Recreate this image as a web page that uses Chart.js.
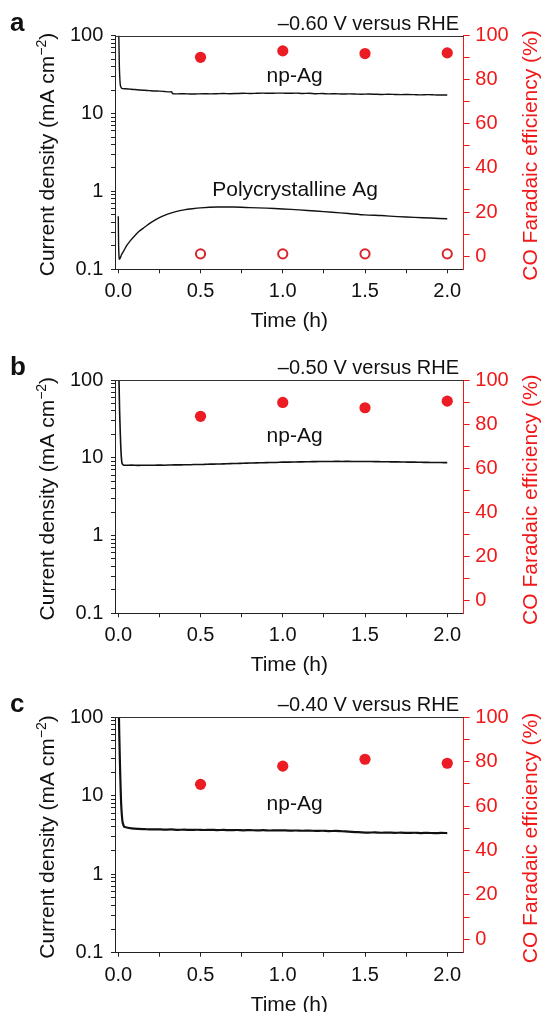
<!DOCTYPE html>
<html>
<head>
<meta charset="utf-8">
<script src="https://cdn.jsdelivr.net/npm/chart.js@4.4.1/dist/chart.umd.min.js"></script>
<style>
  html, body { margin: 0; padding: 0; background: #fff; overflow: hidden; }
  body { width: 542px; height: 1012px; position: relative; }
  canvas { position: absolute; left: 0; }
</style>
</head>
<body>
<canvas id="panelA" width="542" height="340" style="top:0px"></canvas>
<canvas id="panelB" width="542" height="340" style="top:344px"></canvas>
<canvas id="panelC" width="542" height="331" style="top:681px"></canvas>
<script>
const FONT = '"Liberation Sans", Arial, Helvetica, sans-serif';
const RED = "#f01818";
const DOT_RED = "#ec1c24";

// tick values
const timeTicks = [0, 0.25, 0.5, 0.75, 1.0, 1.25, 1.5, 1.75, 2.0];
const feTicks = [0, 10, 20, 30, 40, 50, 60, 70, 80, 90, 100];
const jTicks = [0.1, 0.2, 0.3, 0.4, 0.5, 0.6, 0.7, 0.8, 0.9,
  1, 2, 3, 4, 5, 6, 7, 8, 9,
  10, 20, 30, 40, 50, 60, 70, 80, 90, 100];

// panel a, -0.60 V : np-Ag current density (mA cm-2)
const timeNpA = [0, 0.006, 0.012, 0.02, 0.04, 0.07, 0.1, 0.13, 0.16, 0.19, 0.22, 0.25, 0.28, 0.31,
  0.325, 0.33, 0.36,
  0.40, 0.44, 0.48, 0.52, 0.56, 0.60, 0.64, 0.68, 0.72, 0.76,
  0.80, 0.84, 0.88, 0.92, 0.96, 1.00, 1.04, 1.08, 1.12, 1.16,
  1.20, 1.24, 1.28, 1.32, 1.36, 1.40, 1.44, 1.48, 1.52, 1.56,
  1.60, 1.64, 1.68, 1.72, 1.76, 1.80, 1.84, 1.88, 1.92, 1.96, 2.00];
const jNpA = [300, 45, 23.5, 21.2, 20.8, 20.6, 20.4, 20.1, 19.9, 19.7, 19.5, 19.4, 19.2, 19.0,
  19.0, 18.0, 17.9,
  18.0, 17.8, 17.9, 18.0, 17.9, 18.0, 18.1, 18.0, 18.1, 18.2,
  18.1, 18.2, 18.3, 18.2, 18.3, 18.3, 18.2, 18.3, 18.1, 18.2,
  18.0, 18.1, 17.9, 18.0, 17.8, 17.9, 17.8, 17.7, 17.8, 17.7,
  17.6, 17.7, 17.6, 17.5, 17.6, 17.5, 17.4, 17.5, 17.4, 17.3, 17.3];

// panel a : polycrystalline Ag
const timePolyA = [0, 0.002, 0.006, 0.012, 0.02, 0.035, 0.05, 0.075, 0.1, 0.125,
  0.15, 0.2, 0.25, 0.3, 0.35, 0.4, 0.45, 0.5, 0.6, 0.7,
  0.8, 0.9, 1.0, 1.1, 1.2, 1.3, 1.4, 1.5, 1.6, 1.7,
  1.8, 1.9, 2.0];
const jPolyA = [0.48, 0.2, 0.135, 0.14, 0.155, 0.175, 0.2, 0.235, 0.27, 0.305,
  0.335, 0.4, 0.46, 0.51, 0.55, 0.58, 0.6, 0.615, 0.63, 0.63,
  0.62, 0.61, 0.595, 0.58, 0.56, 0.54, 0.52, 0.5, 0.49, 0.475,
  0.465, 0.455, 0.445];

// panel b, -0.50 V : np-Ag
const timeNpB = [0, 0.008, 0.015, 0.022, 0.03,
  0.04, 0.08, 0.12, 0.16, 0.20, 0.24, 0.28, 0.32, 0.36, 0.40,
  0.44, 0.48, 0.52, 0.56, 0.60, 0.64, 0.68, 0.72, 0.76, 0.80,
  0.84, 0.88, 0.92, 0.96, 1.00, 1.04, 1.08, 1.12, 1.16, 1.20,
  1.24, 1.28, 1.32, 1.36, 1.40, 1.44, 1.48, 1.52, 1.56, 1.60,
  1.64, 1.68, 1.72, 1.76, 1.80, 1.84, 1.88, 1.92, 1.96, 2.00];
const jNpB = [300, 40, 14, 8.6, 8.1,
  8.0, 8.05, 7.98, 8.02, 8.0, 8.05, 8.03, 8.08, 8.1, 8.12,
  8.15, 8.2, 8.22, 8.28, 8.3, 8.35, 8.4, 8.45, 8.5, 8.55,
  8.6, 8.62, 8.68, 8.7, 8.78, 8.8, 8.84, 8.86, 8.9, 8.92,
  8.95, 8.96, 8.98, 8.97, 8.98, 8.96, 8.97, 8.95, 8.92, 8.9,
  8.88, 8.85, 8.84, 8.8, 8.78, 8.75, 8.72, 8.7, 8.68, 8.65];

// panel c, -0.40 V : np-Ag
const timeNpC = [0, 0.006, 0.012, 0.018, 0.026, 0.034,
  0.04, 0.08, 0.12, 0.16, 0.20, 0.24, 0.28, 0.32, 0.36, 0.40,
  0.44, 0.48, 0.52, 0.56, 0.60, 0.64, 0.68, 0.72, 0.76, 0.80,
  0.84, 0.88, 0.92, 0.96, 1.00, 1.04, 1.08, 1.12, 1.16, 1.20,
  1.24, 1.28, 1.32, 1.36, 1.40, 1.44, 1.48, 1.52, 1.56, 1.60,
  1.64, 1.68, 1.72, 1.76, 1.80, 1.84, 1.88, 1.92, 1.96, 2.00];
const jNpC = [300, 60, 18, 7.5, 4.6, 4.1,
  4.0, 3.85, 3.78, 3.75, 3.72, 3.74, 3.7, 3.72, 3.68, 3.7,
  3.67, 3.69, 3.66, 3.68, 3.65, 3.67, 3.64, 3.66, 3.63, 3.65,
  3.62, 3.64, 3.61, 3.63, 3.62, 3.6, 3.61, 3.58, 3.6, 3.57,
  3.58, 3.55, 3.56, 3.53, 3.5, 3.45, 3.42, 3.4, 3.41, 3.38,
  3.4, 3.37, 3.39, 3.36, 3.38, 3.35, 3.37, 3.34, 3.36, 3.35];

// CO Faradaic efficiency (%)
const feTime = [0.5, 1.0, 1.5, 2.0];
const feNpA = [90.2, 93.1, 91.9, 92.2];
const fePolyA = [1, 1, 1, 1];
const feNpB = [83.5, 89.8, 87.4, 90.4];
const feNpC = [69.8, 78.0, 81.1, 79.3];

const pts = (xs, ys) => xs.map((x, i) => ({ x: x, y: ys[i] }));

const panelText = (p) => ({
  id: "panelText",
  afterDraw(chart) {
    const { ctx, chartArea: a, scales } = chart;
    ctx.save();
    // top frame line
    ctx.strokeStyle = "#333";
    ctx.lineWidth = 1;
    ctx.beginPath();
    ctx.moveTo(a.left, Math.round(a.top) + 0.5);
    ctx.lineTo(a.right, Math.round(a.top) + 0.5);
    ctx.stroke();

    ctx.fillStyle = "#111";
    ctx.textBaseline = "alphabetic";
    ctx.textAlign = "left";
    ctx.font = "bold 26px " + FONT;
    ctx.fillText(p.letter, 10, a.top - 5);

    ctx.font = "20px " + FONT;
    ctx.textAlign = "right";
    ctx.fillText(p.potential, 459, a.top - 6);

    ctx.font = "21px " + FONT;
    ctx.textAlign = "center";
    p.notes.forEach((n) => {
      ctx.fillText(n.text, scales.x.getPixelForValue(n.t), scales.y.getPixelForValue(n.j));
    });
    ctx.fillText("Time (h)", (a.left + a.right) / 2, a.bottom + 58);

    const midY = (a.top + a.bottom) / 2;
    // left title with superscript
    ctx.save();
    ctx.translate(53.7, midY + 2);
    ctx.rotate(-Math.PI / 2);
    const main = "Current density (mA cm", sup = "\u22122", close = ")";
    ctx.font = "21px " + FONT;
    const wMain = ctx.measureText(main).width;
    const wClose = ctx.measureText(close).width;
    ctx.font = "14px " + FONT;
    const wSup = ctx.measureText(sup).width;
    const x0 = -(wMain + wSup + wClose) / 2;
    ctx.textAlign = "left";
    ctx.font = "21px " + FONT;
    ctx.fillText(main, x0, 0);
    ctx.font = "14px " + FONT;
    ctx.fillText(sup, x0 + wMain, -8);
    ctx.font = "21px " + FONT;
    ctx.fillText(close, x0 + wMain + wSup, 0);
    ctx.restore();

    // right title
    ctx.save();
    ctx.translate(537, midY + 3);
    ctx.rotate(-Math.PI / 2);
    ctx.fillStyle = RED;
    ctx.font = "21px " + FONT;
    ctx.textAlign = "center";
    ctx.fillText("CO Faradaic efficiency (%)", 0, 0);
    ctx.restore();

    ctx.restore();
  },
});

function drawPanel(id, p) {
  const ctx = document.getElementById(id).getContext("2d");
  const datasets = [];
  p.traces.forEach((tr) => {
    datasets.push({
      data: pts(tr.t, tr.j),
      yAxisID: "y",
      borderColor: "#111",
      borderWidth: tr.width,
      pointRadius: 0,
      tension: 0.2,
      fill: false,
    });
  });
  p.fe.forEach((f) => {
    datasets.push({
      data: pts(feTime, f.values),
      yAxisID: "y1",
      showLine: false,
      pointRadius: f.open ? 4.6 : 5.6,
      pointBorderWidth: f.open ? 2 : 0,
      pointBorderColor: f.open ? "#d8252b" : DOT_RED,
      pointBackgroundColor: f.open ? "#fff" : DOT_RED,
    });
  });

  return new Chart(ctx, {
    type: "line",
    data: { datasets: datasets },
    options: {
      responsive: false,
      animation: false,
      devicePixelRatio: 1,
      layout: { padding: { top: p.top, left: 0, right: 0, bottom: 0 } },
      plugins: { legend: { display: false }, tooltip: { enabled: false } },
      scales: {
        x: {
          type: "linear",
          position: "bottom",
          min: -0.02,
          max: 2.1,
          afterBuildTicks: (s) => { s.ticks = timeTicks.map((v) => ({ value: v })); },
          afterFit: (s) => { s.height = p.xHeight; },
          grid: { drawOnChartArea: false, drawTicks: true, tickLength: 4, tickColor: "#222" },
          border: { display: true, color: "#222", width: 1 },
          ticks: {
            autoSkip: false,
            maxRotation: 0,
            padding: 6.4,
            color: "#111",
            font: { size: 20, family: FONT },
            callback: (v) => (Math.abs(v * 2 - Math.round(v * 2)) < 1e-9 ? Number(v).toFixed(1) : ""),
          },
        },
        y: {
          type: "logarithmic",
          position: "left",
          min: 0.1,
          max: 100,
          afterBuildTicks: (s) => { s.ticks = jTicks.map((v) => ({ value: v })); },
          afterFit: (s) => { s.width = 115; },
          grid: { drawOnChartArea: false, drawTicks: true, tickLength: 4, tickColor: "#222" },
          border: { display: true, color: "#222", width: 1 },
          ticks: {
            autoSkip: false,
            padding: 7.7,
            color: "#111",
            font: { size: 20, family: FONT },
            callback: (v) => {
              const l = Math.log10(v);
              return Math.abs(l - Math.round(l)) < 1e-6 ? String(v) : "";
            },
          },
        },
        y1: {
          type: "linear",
          position: "right",
          min: -6,
          max: 100,
          afterBuildTicks: (s) => { s.ticks = feTicks.map((v) => ({ value: v })); },
          afterFit: (s) => { s.width = 78.3; },
          grid: { drawOnChartArea: false, drawTicks: true, tickLength: 6, tickColor: RED },
          border: { display: true, color: RED, width: 1 },
          ticks: {
            autoSkip: false,
            padding: 5.6,
            color: RED,
            font: { size: 20, family: FONT },
            callback: (v) => (v % 20 === 0 ? String(v) : ""),
          },
        },
      },
    },
    plugins: [panelText(p)],
  });
}

drawPanel("panelA", {
  letter: "a",
  potential: "\u20130.60 V versus RHE",
  top: 35.7,
  xHeight: 70.7,
  traces: [
    { t: timeNpA, j: jNpA, width: 1.4 },
    { t: timePolyA, j: jPolyA, width: 1.4 },
  ],
  fe: [
    { values: feNpA, open: false },
    { values: fePolyA, open: true },
  ],
  notes: [
    { text: "np-Ag", t: 1.072, j: 25.7 },
    { text: "Polycrystalline Ag", t: 1.075, j: 0.88 },
  ],
});

drawPanel("panelB", {
  letter: "b",
  potential: "\u20130.50 V versus RHE",
  top: 36,
  xHeight: 70.7,
  traces: [{ t: timeNpB, j: jNpB, width: 1.6 }],
  fe: [{ values: feNpB, open: false }],
  notes: [{ text: "np-Ag", t: 1.072, j: 15.9 }],
});

drawPanel("panelC", {
  letter: "c",
  potential: "\u20130.40 V versus RHE",
  top: 36.3,
  xHeight: 59.3,
  traces: [{ t: timeNpC, j: jNpC, width: 2.2 }],
  fe: [{ values: feNpC, open: false }],
  notes: [{ text: "np-Ag", t: 1.072, j: 6.6 }],
});
</script>
</body>
</html>
